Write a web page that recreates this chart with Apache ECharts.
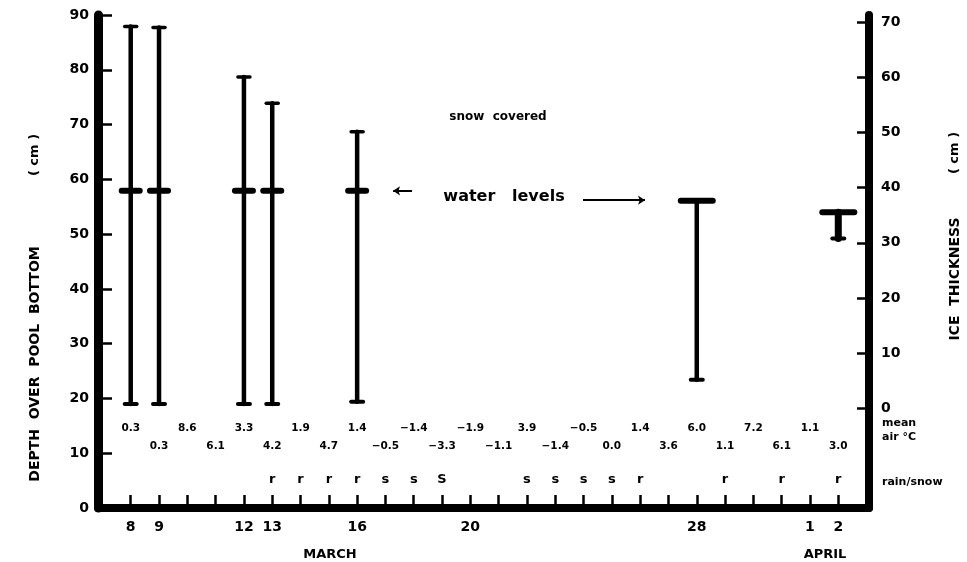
<!DOCTYPE html>
<html>
<head>
<meta charset="UTF-8">
<title>Pool depth and ice thickness</title>
<script src="https://cdn.jsdelivr.net/npm/echarts@6/dist/echarts.min.js"></script>
<style>
  html, body, #chart { width: 967px; height: 562px; margin: 0; padding: 0; background: #fff; }
</style>
</head>
<body>
<div id="chart"></div>
<script>
// days counted from March 1 (April 1 = 32, April 2 = 33)
const tickDays = [8,9,10,11,12,13,14,15,16,17,18,19,20,21,22,23,24,25,26,27,28,29,30,31,32,33];
const labelDays = [8, 9, 12, 13, 16, 20, 28, 32, 33];
const depthTicks = [0, 10, 20, 30, 40, 50, 60, 70, 80, 90];
const iceTicks = [0, 10, 20, 30, 40, 50, 60, 70];

// vertical bars (depth over pool bottom, cm) and water level marks
const barDays   = [8, 9, 12, 13, 16, 28, 33];
const barLow    = [19.0, 19.0, 19.0, 19.0, 19.4, 23.4, 49.2];
const barHigh   = [87.9, 87.7, 78.7, 73.9, 68.7, 56.1, 54.0];
const waterLvl  = [57.9, 57.9, 57.9, 57.9, 57.9, 56.1, 54.0];

// mean air temperature, one per day 8..33
const meanAir = [0.3, 0.3, 8.6, 6.1, 3.3, 4.2, 1.9, 4.7, 1.4, -0.5, -1.4, -3.3, -1.9,
                 -1.1, 3.9, -1.4, -0.5, 0.0, 1.4, 3.6, 6.0, 1.1, 7.2, 6.1, 1.1, 3.0];

// rain / snow
const precipDays  = [13, 14, 15, 16, 17, 18, 19, 22, 23, 24, 25, 26, 29, 31, 33];
const precipCodes = ['r','r','r','r','s','s','S','s','s','s','s','r','r','r','r'];

const FONT = '"DejaVu Sans", "Liberation Sans", Arial, sans-serif';
const ROW_Y = [14.6, 11.3];   // two staggered rows of temperatures
const PRECIP_Y = 5.1;

const chart = echarts.init(document.getElementById('chart'), null, { renderer: 'canvas' });

const barData = barDays.map((d, i) => [d, barLow[i], barHigh[i], waterLvl[i]]);
const tempData = tickDays.map((d, i) => [d, ROW_Y[i % 2], meanAir[i]]);
const precipData = precipDays.map((d, i) => [d, PRECIP_Y, precipCodes[i]]);

function fmtTemp(v) {
  const s = Math.abs(v).toFixed(1);
  return v < 0 ? '\u2212' + s : s;
}

function renderBar(params, api) {
  const x = api.coord([api.value(0), api.value(1)])[0];
  const yLow = api.coord([api.value(0), api.value(1)])[1];
  const yHigh = api.coord([api.value(0), api.value(2)])[1];
  const yLvl = api.coord([api.value(0), api.value(3)])[1];
  const atTop = Math.abs(api.value(3) - api.value(2)) < 0.01;
  const st = { stroke: '#000', lineCap: 'round' };
  const children = [
    { type: 'line', shape: { x1: x, y1: yLow, x2: x, y2: yHigh }, style: Object.assign({ lineWidth: atTop && (yLow - yHigh) < 40 ? 7 : 4.5 }, st) },
    { type: 'line', shape: { x1: x - 6, y1: yLow, x2: x + 6, y2: yLow }, style: Object.assign({ lineWidth: 4 }, st) }
  ];
  if (atTop) {
    children.push({ type: 'line', shape: { x1: x - 16, y1: yHigh, x2: x + 16, y2: yHigh }, style: Object.assign({ lineWidth: 6 }, st) });
  } else {
    children.push({ type: 'line', shape: { x1: x - 6, y1: yHigh, x2: x + 6, y2: yHigh }, style: Object.assign({ lineWidth: 3.5 }, st) });
    children.push({ type: 'line', shape: { x1: x - 9, y1: yLvl, x2: x + 9, y2: yLvl }, style: Object.assign({ lineWidth: 6 }, st) });
  }
  return { type: 'group', children: children };
}

function renderText(size) {
  return function (params, api) {
    const p = api.coord([api.value(0), api.value(1)]);
    const v = api.value(2);
    return {
      type: 'text', x: p[0], y: p[1],
      style: {
        text: typeof v === 'number' ? fmtTemp(v) : String(v),
        align: 'center', verticalAlign: 'middle',
        font: 'bold ' + size + 'px ' + FONT, fill: '#000'
      }
    };
  };
}

const boldLabel = { color: '#000', fontWeight: 'bold', fontFamily: FONT };

function txt(x, y, text, size, extra) {
  return Object.assign({ type: 'text', x: x, y: y,
    style: { text: text, align: 'center', verticalAlign: 'middle', font: 'bold ' + size + 'px ' + FONT, fill: '#000' } }, extra || {});
}

const option = {
  backgroundColor: '#fff',
  animation: false,
  grid: { left: 98, right: 98, top: 15, bottom: 54 },
  xAxis: {
    type: 'value', min: 6.844, max: 34.085,
    axisLine: { lineStyle: { color: '#000', width: 8 } },
    axisTick: { inside: true, length: 13, lineStyle: { color: '#000', width: 2.5 }, customValues: tickDays },
    axisLabel: Object.assign({ fontSize: 14, margin: 12, customValues: labelDays,
      formatter: v => String(v > 31 ? v - 31 : v) }, boldLabel),
    splitLine: { show: false }
  },
  yAxis: [
    {
      type: 'value', min: 0, max: 90, interval: 10, position: 'left',
      axisLine: { show: true, lineStyle: { color: '#000', width: 9 } },
      axisTick: { show: true, inside: true, length: 14, lineStyle: { color: '#000', width: 2.5 }, customValues: depthTicks },
      axisLabel: Object.assign({ fontSize: 14, margin: 9, customValues: depthTicks }, boldLabel),
      splitLine: { show: false }
    },
    {
      type: 'value', min: -18.1, max: 71.3, position: 'right',
      axisLine: { show: true, lineStyle: { color: '#000', width: 8 } },
      axisTick: { show: true, inside: true, length: 12, lineStyle: { color: '#000', width: 2.5 }, customValues: iceTicks },
      axisLabel: Object.assign({ fontSize: 14, margin: 12, customValues: iceTicks }, boldLabel),
      splitLine: { show: false }
    }
  ],
  series: [
    { type: 'custom', renderItem: renderBar, data: barData, encode: { x: 0, y: [1, 2] }, z: 5 },
    { type: 'custom', renderItem: renderText(10.5), data: tempData, encode: { x: 0, y: 1 } },
    { type: 'custom', renderItem: renderText(13), data: precipData, encode: { x: 0, y: 1 } },
    {
      type: 'line', data: [], silent: true,
      markLine: {
        silent: true, symbol: ['none', 'arrow'], symbolSize: 7, label: { show: false },
        lineStyle: { color: '#000', type: 'solid', width: 2 },
        data: [
          [{ coord: [17.94, 57.9] }, { coord: [17.27, 57.9] }],
          [{ coord: [23.98, 56.2] }, { coord: [26.17, 56.2] }]
        ]
      }
    }
  ],
  graphic: [
    txt(35, 364, 'DEPTH  OVER  POOL  BOTTOM', 14, { rotation: Math.PI / 2 }),
    txt(35, 155, '( cm )', 13, { rotation: Math.PI / 2 }),
    txt(955, 279, 'ICE  THICKNESS', 14, { rotation: Math.PI / 2 }),
    txt(955, 153, '( cm )', 13, { rotation: Math.PI / 2 }),
    { type: 'text', x: 882, y: 423, style: { text: 'mean', verticalAlign: 'middle', font: 'bold 11px ' + FONT, fill: '#000' } },
    { type: 'text', x: 882, y: 437, style: { text: 'air \u00b0C', verticalAlign: 'middle', font: 'bold 11px ' + FONT, fill: '#000' } },
    { type: 'text', x: 882, y: 482, style: { text: 'rain/snow', verticalAlign: 'middle', font: 'bold 11px ' + FONT, fill: '#000' } },
    txt(330, 555, 'MARCH', 13),
    txt(825, 555, 'APRIL', 13),
    txt(498, 117, 'snow  covered', 12),
    txt(504, 197, 'water   levels', 16)
  ]
};

chart.setOption(option);
</script>
</body>
</html>
